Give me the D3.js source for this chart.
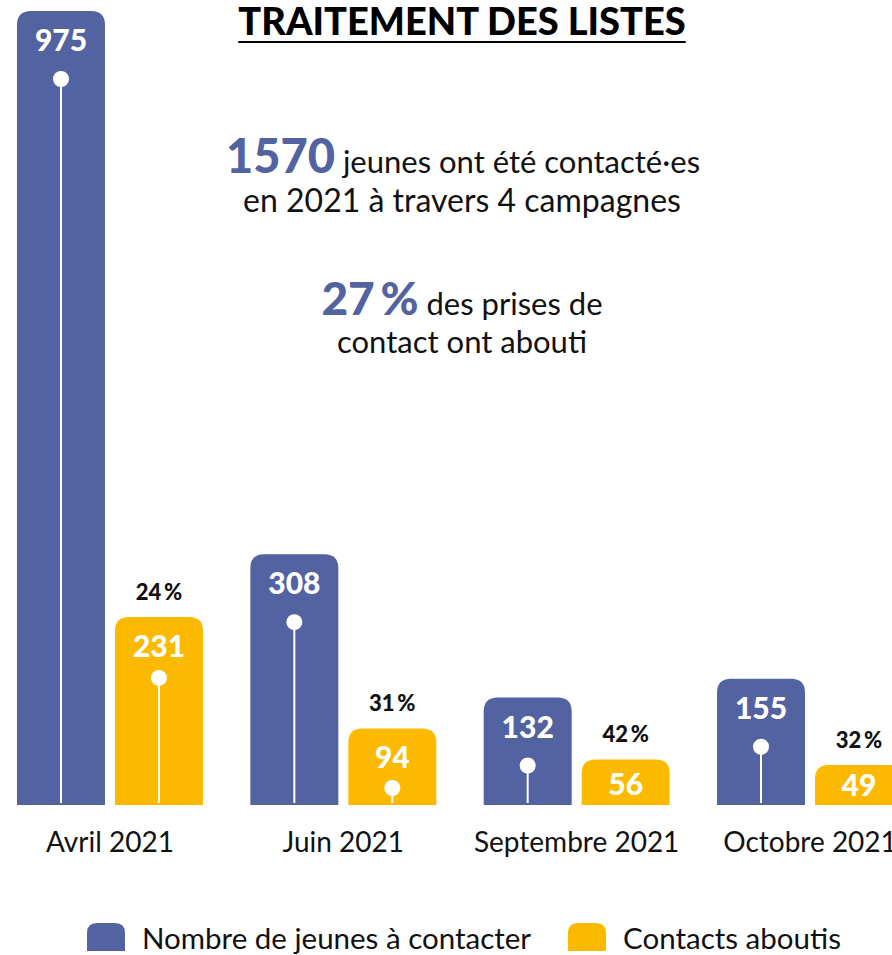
<!DOCTYPE html>
<html>
<head>
<meta charset="utf-8">
<script src="https://cdn.jsdelivr.net/npm/d3@7"></script>
<style>
  body { margin: 0; background: #fff; }
  svg { font-family: Lato, "Open Sans", sans-serif; }
</style>
</head>
<body>
<svg id="chart"></svg>
<script>
// Data
var campagnes = ["Avril 2021", "Juin 2021", "Septembre 2021", "Octobre 2021"];
var aContacter = [975, 308, 132, 155];
var aboutis = [231, 94, 56, 49];
var series = ["Nombre de jeunes à contacter", "Contacts aboutis"];
var colors = ["#5363a1", "#fbba00"];

var width = 892, height = 955;
var baseline = 805;

var svg = d3.select("#chart")
  .attr("width", width)
  .attr("height", height);

// Scales
var x0 = d3.scaleBand()
  .domain(campagnes)
  .range([17, 903])
  .paddingInner(0.203)
  .paddingOuter(0);

var x1 = d3.scaleBand()
  .domain(series)
  .range([0, x0.bandwidth()])
  .paddingInner(0.102);

var y = d3.scaleLinear()
  .domain([0, d3.max(aContacter)])
  .range([baseline, 11]);

// bar with rounded top corners
function topRounded(x, yTop, w, h, r) {
  return "M" + x + "," + (yTop + h) +
    "V" + (yTop + r) +
    "Q" + x + "," + yTop + " " + (x + r) + "," + yTop +
    "H" + (x + w - r) +
    "Q" + (x + w) + "," + yTop + " " + (x + w) + "," + (yTop + r) +
    "V" + (yTop + h) + "Z";
}

var rows = campagnes.map(function(c, i) {
  return {
    campagne: c,
    values: [
      {serie: series[0], value: aContacter[i], idx: 0},
      {serie: series[1], value: aboutis[i], idx: 1, rate: Math.round(aboutis[i] / aContacter[i] * 100)}
    ]
  };
});

var groups = svg.selectAll(".group")
  .data(rows)
  .enter().append("g")
  .attr("class", "group")
  .attr("transform", function(d) { return "translate(" + x0(d.campagne) + ",0)"; });

var bars = groups.selectAll(".bar")
  .data(function(d) { return d.values; })
  .enter().append("g")
  .attr("class", "bar");

bars.append("path")
  .attr("d", function(d) {
    var top = y(d.value);
    return topRounded(x1(d.serie), top, x1.bandwidth(), baseline - top, 14);
  })
  .attr("fill", function(d) { return colors[d.idx]; });

// dot position inside the bar
function dotY(d) {
  var h = baseline - y(d.value);
  return y(d.value) + Math.min(d.idx === 0 ? 68 : 61, h - 17);
}

// stem + dot (only where the bar is tall enough)
var tall = bars.filter(function(d) { return baseline - y(d.value) > 70; });

tall.append("line")
  .attr("x1", function(d) { return x1(d.serie) + x1.bandwidth() / 2; })
  .attr("x2", function(d) { return x1(d.serie) + x1.bandwidth() / 2; })
  .attr("y1", dotY)
  .attr("y2", baseline - 2)
  .attr("stroke", "#fff")
  .attr("stroke-width", 2);

tall.append("circle")
  .attr("cx", function(d) { return x1(d.serie) + x1.bandwidth() / 2; })
  .attr("cy", dotY)
  .attr("r", 8)
  .attr("fill", "#fff");

// value labels inside bars
bars.append("text")
  .attr("x", function(d) { return x1(d.serie) + x1.bandwidth() / 2; })
  .attr("y", function(d) { var h = baseline - y(d.value); return y(d.value) + Math.min(40, h * 0.78); })
  .attr("text-anchor", "middle")
  .attr("fill", "#fff")
  .style("font-size", "30px")
  .style("font-weight", "900")
  .text(function(d) { return d.value; });

// rate labels above yellow bars
bars.filter(function(d) { return d.idx === 1; })
  .append("text")
  .attr("x", function(d) { return x1(d.serie) + x1.bandwidth() / 2; })
  .attr("y", function(d) { return y(d.value) - 17; })
  .attr("text-anchor", "middle")
  .attr("fill", "#111")
  .style("font-size", "22px")
  .style("font-weight", "900")
  .text(function(d) { return d.rate + "\u2009%"; });

// category axis
var axis = svg.append("g")
  .attr("transform", "translate(0," + baseline + ")")
  .call(d3.axisBottom(x0).tickSize(0).tickPadding(0));
axis.select(".domain").remove();
axis.selectAll("text")
  .attr("y", 47)
  .attr("dy", 0)
  .attr("fill", "#111")
  .style("font-family", "Lato, sans-serif")
  .style("font-size", "28px");

// Title
var title = svg.append("text")
  .attr("x", 462)
  .attr("y", 35)
  .attr("text-anchor", "middle")
  .attr("fill", "#000")
  .style("font-size", "38px")
  .style("font-weight", "900")
  .text("TRAITEMENT DES LISTES");
var tw = title.node().getComputedTextLength();
svg.append("line")
  .attr("x1", 462 - tw / 2).attr("x2", 462 + tw / 2)
  .attr("y1", 42).attr("y2", 42)
  .attr("stroke", "#000").attr("stroke-width", 2);

// Key figures
var total = d3.sum(aContacter);
var globalRate = Math.round(d3.sum(aboutis) / total * 100);

var t1 = svg.append("text").attr("x", 463).attr("y", 173).attr("text-anchor", "middle").attr("fill", "#111");
t1.append("tspan").attr("fill", colors[0]).style("font-size", "47px").style("font-weight", "900").text(total);
t1.append("tspan").style("font-size", "31px").text(" jeunes ont été contacté·es");

svg.append("text").attr("x", 462).attr("y", 212).attr("text-anchor", "middle").attr("fill", "#111")
  .style("font-size", "32px").text("en 2021 à travers 4 campagnes");

var t3 = svg.append("text").attr("x", 462).attr("y", 315).attr("text-anchor", "middle").attr("fill", "#111");
t3.append("tspan").attr("fill", colors[0]).style("font-size", "46px").style("font-weight", "900").text(globalRate + "\u2009%");
t3.append("tspan").style("font-size", "31px").text(" des prises de");

svg.append("text").attr("x", 462).attr("y", 353).attr("text-anchor", "middle").attr("fill", "#111")
  .style("font-size", "31px").text("contact ont abouti");

// Legend
var legendX = [87, 568];
var legend = svg.selectAll(".legend")
  .data(series)
  .enter().append("g")
  .attr("class", "legend")
  .attr("transform", function(d, i) { return "translate(" + legendX[i] + ",923)"; });

legend.append("path")
  .attr("d", topRounded(0, 0, 38, 28, 10))
  .attr("fill", function(d, i) { return colors[i]; });

legend.append("text")
  .attr("x", 55)
  .attr("y", 26)
  .attr("fill", "#111")
  .style("font-size", "29.5px")
  .text(function(d) { return d; });
</script>
</body>
</html>
